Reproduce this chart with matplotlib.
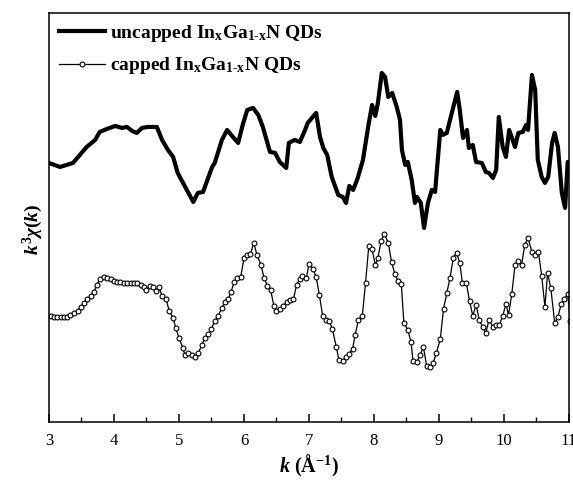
import matplotlib
matplotlib.use("Agg")
import matplotlib.pyplot as plt
from matplotlib.ticker import MultipleLocator

plt.rcParams["font.family"] = ["Liberation Serif", "DejaVu Serif"]
plt.rcParams["mathtext.fontset"] = "custom"
plt.rcParams["mathtext.rm"] = "Liberation Serif:bold"
plt.rcParams["mathtext.it"] = "Liberation Serif:italic:bold"
plt.rcParams["mathtext.bf"] = "Liberation Serif:bold"

# uncapped InGaN QDs, k^3 chi(k) in arbitrary units (stacked above)
k_uncapped = [
    3.00, 3.17, 3.37, 3.58, 3.71, 3.78, 3.89, 4.02, 4.12, 4.20,
    4.28, 4.35, 4.43, 4.52, 4.66, 4.74, 4.83, 4.91, 4.98, 5.12,
    5.22, 5.29, 5.37, 5.51, 5.55, 5.66, 5.74, 5.83, 5.91, 5.98,
    6.05, 6.14, 6.22, 6.29, 6.40, 6.48, 6.55, 6.65, 6.69, 6.78,
    6.86, 6.94, 6.98, 7.11, 7.17, 7.22, 7.28, 7.35, 7.45, 7.52,
    7.57, 7.62, 7.68, 7.75, 7.83, 7.91, 7.97, 8.02, 8.06, 8.12,
    8.17, 8.22, 8.28, 8.35, 8.40, 8.43, 8.48, 8.52, 8.58, 8.63,
    8.66, 8.72, 8.77, 8.83, 8.89, 8.94, 9.02, 9.06, 9.12, 9.17,
    9.28, 9.32, 9.37, 9.43, 9.46, 9.52, 9.57, 9.66, 9.72, 9.77,
    9.83, 9.88, 9.92, 9.98, 10.03, 10.08, 10.17, 10.22, 10.29, 10.34,
    10.37, 10.43, 10.48, 10.52, 10.58, 10.63, 10.68, 10.74, 10.78, 10.83,
    10.89, 10.94, 10.98, 11.03,
]
chi_uncapped = [
    25.9, 25.5, 25.9, 27.5, 28.2, 29.0, 29.3, 29.6, 29.4, 29.5,
    29.1, 28.9, 29.4, 29.5, 29.5, 28.2, 27.2, 26.5, 24.9, 23.2,
    22.0, 22.9, 23.0, 25.5, 25.9, 28.2, 29.2, 28.5, 27.9, 29.7,
    31.2, 31.4, 30.7, 29.5, 27.0, 26.9, 26.0, 25.4, 27.9, 28.2,
    28.0, 29.2, 29.9, 30.9, 28.5, 27.4, 26.7, 24.5, 22.7, 22.5,
    21.9, 23.6, 23.2, 24.4, 26.2, 29.5, 31.7, 30.6, 31.9, 34.9,
    34.5, 32.5, 32.9, 31.5, 30.2, 27.2, 25.7, 26.0, 24.2, 21.9,
    22.5, 21.9, 19.4, 21.9, 23.2, 23.0, 29.2, 28.7, 28.9, 30.2,
    33.0, 31.2, 28.4, 29.2, 27.4, 27.7, 26.0, 25.9, 25.0, 24.9,
    24.4, 25.2, 30.5, 27.5, 26.5, 29.2, 27.5, 28.9, 29.0, 29.7,
    29.2, 34.7, 33.2, 26.2, 24.5, 23.9, 24.5, 27.9, 28.9, 27.5,
    22.9, 21.4, 26.0, 26.0,
]

# capped InGaN QDs
k_capped = [
    3.03, 3.08, 3.13, 3.18, 3.23, 3.28, 3.33, 3.38, 3.44, 3.49,
    3.54, 3.59, 3.64, 3.69, 3.74, 3.78, 3.85, 3.90, 3.95, 4.00,
    4.05, 4.10, 4.15, 4.20, 4.26, 4.31, 4.36, 4.41, 4.46, 4.50,
    4.55, 4.60, 4.65, 4.69, 4.74, 4.80, 4.85, 4.91, 4.95, 5.00,
    5.06, 5.09, 5.14, 5.20, 5.25, 5.30, 5.35, 5.40, 5.45, 5.50,
    5.55, 5.60, 5.66, 5.71, 5.76, 5.80, 5.85, 5.90, 5.95, 6.00,
    6.05, 6.10, 6.15, 6.20, 6.26, 6.31, 6.36, 6.41, 6.46, 6.50,
    6.55, 6.60, 6.66, 6.71, 6.76, 6.81, 6.86, 6.90, 6.96, 7.00,
    7.06, 7.11, 7.16, 7.21, 7.26, 7.31, 7.36, 7.42, 7.46, 7.52,
    7.57, 7.62, 7.67, 7.71, 7.76, 7.82, 7.87, 7.92, 7.97, 8.02,
    8.06, 8.11, 8.16, 8.22, 8.27, 8.32, 8.37, 8.42, 8.46, 8.52,
    8.57, 8.60, 8.66, 8.71, 8.76, 8.81, 8.86, 8.91, 8.96, 9.02,
    9.07, 9.12, 9.17, 9.22, 9.27, 9.32, 9.36, 9.42, 9.47, 9.52,
    9.57, 9.62, 9.67, 9.72, 9.77, 9.83, 9.88, 9.93, 9.98, 10.03,
    10.07, 10.12, 10.17, 10.22, 10.27, 10.32, 10.37, 10.43, 10.48, 10.53,
    10.58, 10.63, 10.67, 10.72, 10.78, 10.83, 10.88, 10.93, 10.98, 11.02,
]
chi_capped = [
    10.6, 10.5, 10.5, 10.5, 10.5, 10.5, 10.7, 10.9, 11.1, 11.5,
    11.9, 12.3, 12.6, 13.0, 13.7, 14.3, 14.5, 14.4, 14.3, 14.1,
    14.0, 14.0, 13.9, 13.9, 13.9, 13.9, 13.9, 13.7, 13.5, 13.2,
    13.6, 13.5, 13.1, 13.5, 12.6, 12.3, 11.1, 10.4, 9.4, 8.4,
    7.4, 6.7, 6.9, 6.7, 6.5, 6.9, 7.7, 8.4, 8.8, 9.3,
    10.1, 10.6, 11.4, 12.0, 12.3, 13.0, 14.0, 14.4, 14.5, 16.4,
    16.7, 16.8, 17.9, 16.7, 15.7, 14.4, 13.6, 13.2, 11.6, 11.1,
    11.3, 11.6, 12.0, 12.2, 12.3, 13.7, 14.3, 14.6, 14.4, 15.8,
    15.3, 14.5, 12.7, 10.6, 10.2, 10.1, 9.3, 7.5, 6.2, 6.1,
    6.5, 6.8, 7.3, 8.7, 10.2, 10.6, 13.9, 17.6, 17.3, 15.7,
    16.4, 18.1, 18.8, 17.9, 16.0, 14.8, 14.1, 13.8, 9.9, 9.2,
    8.0, 6.1, 6.0, 6.7, 7.5, 5.6, 5.5, 5.9, 6.9, 8.3,
    11.3, 12.9, 14.4, 16.4, 16.9, 15.9, 13.9, 13.9, 12.1, 10.6,
    11.7, 10.2, 9.5, 8.9, 10.2, 9.5, 9.7, 9.7, 10.6, 11.8,
    10.7, 12.8, 15.7, 16.1, 15.7, 17.7, 18.4, 17.0, 16.7, 17.0,
    14.6, 11.5, 14.9, 13.4, 9.9, 10.5, 11.8, 12.3, 12.8, 10.1,
]

label_uncapped = r"uncapped In$_{\rm x}$Ga$_{\rm 1\text{-}x}$N QDs"
label_capped = r"capped In$_{\rm x}$Ga$_{\rm 1\text{-}x}$N QDs"

fig = plt.figure(figsize=(5.73, 4.8), dpi=100)
ax = fig.add_axes([0.0855, 0.121, 0.9075, 0.852])

ax.plot(k_uncapped, chi_uncapped, color="black", lw=3.0, solid_joinstyle="round",
        label=label_uncapped)
ax.plot(k_capped, chi_capped, color="black", lw=0.9, marker="o", ms=3.5,
        mfc="white", mec="black", mew=0.8, label=label_capped)

ax.set_xlim(3, 11)
ax.set_ylim(0, 40.9)
ax.xaxis.set_major_locator(MultipleLocator(1))
ax.xaxis.set_minor_locator(MultipleLocator(0.5))
ax.tick_params(axis="x", which="major", direction="in", length=6, width=1.1,
               labelsize=12, pad=8)
ax.tick_params(axis="x", which="minor", direction="in", length=3.5, width=1.0)
ax.set_yticks([])
for spine in ax.spines.values():
    spine.set_linewidth(1.1)

ax.set_xlabel(r"$k$ (Å$^{-1}$)", fontsize=14.5, fontweight="bold", labelpad=3)
ax.set_ylabel(r"$k^{3}\chi(k)$", fontsize=14, fontweight="bold", labelpad=3)
ax.yaxis.label.set_y(0.47)

ax.legend(loc="upper left", frameon=False, handlelength=2.4, handletextpad=0.25,
          labelspacing=0.6, borderaxespad=0.2, borderpad=0.3,
          prop={"family": "Liberation Serif", "weight": "bold", "size": 14})

fig.savefig("out.png", dpi=100)
